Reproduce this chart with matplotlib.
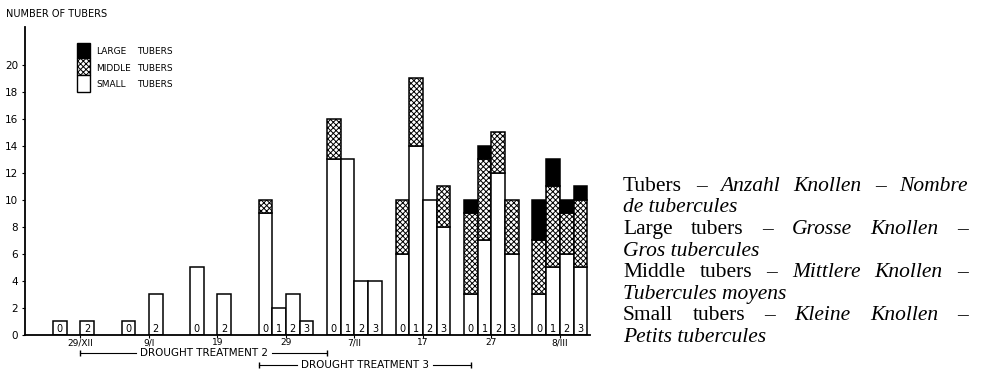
import matplotlib
matplotlib.use('Agg')
import matplotlib.pyplot as plt
from matplotlib.patches import Rectangle

# data
dates = ['29/XII', '9/I', '19', '29', '7/II', '17', '27', '8/III']
slots = [[0, 2], [0, 2], [0, 2], [0, 1, 2, 3], [0, 1, 2, 3], [0, 1, 2, 3], [0, 1, 2, 3], [0, 1, 2, 3]]
small = [[1, 1], [1, 3], [5, 3], [9, 2, 3, 1], [13, 13, 4, 4], [6, 14, 10, 8], [3, 7, 12, 6], [3, 5, 6, 5]]
middle = [[0, 0], [0, 0], [0, 0], [1, 0, 0, 0], [3, 0, 0, 0], [4, 5, 0, 3], [6, 6, 3, 4], [4, 6, 3, 5]]
large = [[0, 0], [0, 0], [0, 0], [0, 0, 0, 0], [0, 0, 0, 0], [0, 0, 0, 0], [1, 1, 0, 0], [3, 2, 1, 1]]
yticks = list(range(0, 21, 2))

legend_labels = ['LARGE', 'MIDDLE', 'SMALL']
treatments = ['DROUGHT TREATMENT 2', 'DROUGHT TREATMENT 3']

# caption on the right: (word, italic)
caption = [
    [('Tubers', 0), ('–', 0), ('Anzahl', 1), ('Knollen', 1), ('–', 1), ('Nombre', 1)],
    [('de tubercules', 1)],
    [('Large', 0), ('tubers', 0), ('–', 0), ('Grosse', 1), ('Knollen', 1), ('–', 1)],
    [('Gros tubercules', 1)],
    [('Middle', 0), ('tubers', 0), ('–', 0), ('Mittlere', 1), ('Knollen', 1), ('–', 1)],
    [('Tubercules moyens', 1)],
    [('Small', 0), ('tubers', 0), ('–', 0), ('Kleine', 1), ('Knollen', 1), ('–', 1)],
    [('Petits tubercules', 1)],
]

plt.rcParams['hatch.linewidth'] = 0.7
W, H = 981, 379
fig = plt.figure(figsize=(W / 100, H / 100), dpi=100)
ax = fig.add_axes([25 / W, 1 - 335 / H, 565 / W, 308 / H])

hatch = 'xxxxxx'
for g in range(len(dates)):
    for k, s in enumerate(slots[g]):
        x = g * 5 + s
        ax.bar(x, small[g][k], width=1, align='edge', color='white', edgecolor='black', lw=1.1)
        if middle[g][k]:
            ax.bar(x, middle[g][k], bottom=small[g][k], width=1, align='edge', color='white',
                   edgecolor='black', hatch=hatch, lw=1.1)
        if large[g][k]:
            ax.bar(x, large[g][k], bottom=small[g][k] + middle[g][k], width=1, align='edge',
                   color='black', edgecolor='black', lw=1.1)
        ax.text(x + 0.5, 0.42, str(s), ha='center', va='center', fontsize=7)

ax.set_xlim(-2.05, 39.2)
ax.set_ylim(0, 22.8)
ax.spines['top'].set_visible(False)
ax.spines['right'].set_visible(False)
ax.spines['left'].set_linewidth(1.3)
ax.spines['bottom'].set_linewidth(1.3)
ax.set_xticks([g * 5 + 2 for g in range(len(dates))])
ax.set_xticklabels(dates, fontsize=6.5)
ax.tick_params(axis='x', length=2.5, width=0.8, pad=0)
ax.set_yticks(yticks)
ax.set_yticklabels([str(v) for v in yticks], fontsize=7.5)
ax.tick_params(axis='y', length=2, width=0.8, pad=3)

# legend drawn by hand like the original
cols = ['black', 'white', 'white']
hat = [None, hatch, None]
for i in range(3):
    y0 = 20.5 - i * 1.24
    ax.add_patch(Rectangle((1.75, y0), 0.95, 1.1 if i == 0 else 1.24, facecolor=cols[i],
                           edgecolor='black', hatch=hat[i], lw=1.0))
    ax.text(3.14, y0 + 0.5, legend_labels[i], fontsize=6.5, va='center')
    ax.text(6.14, y0 + 0.5, 'TUBERS', fontsize=6.5, va='center')

fig.text(6 / W, 1 - 14 / H, 'NUMBER OF TUBERS', fontsize=7, va='center')

fig.canvas.draw()
r = fig.canvas.get_renderer()

# drought treatment lines, broken around the label
spans = [(2, 20, -1.33), (15, 30.5, -2.25)]
for (x0, x1, yy), lab in zip(spans, treatments):
    t = ax.text((x0 + x1) / 2, yy, lab, ha='center', va='center', fontsize=7.5, clip_on=False)
    bb = t.get_window_extent(r).transformed(ax.transData.inverted())
    ax.plot([x0, bb.x0 - 0.3], [yy, yy], color='black', lw=0.8, clip_on=False)
    ax.plot([bb.x1 + 0.3, x1], [yy, yy], color='black', lw=0.8, clip_on=False)
    ax.plot([x0, x1], [yy, yy], ls='none', marker='|', ms=4, color='black', clip_on=False)

# justified caption
left, right = 623, 968
base = 191
for i, line in enumerate(caption):
    y = 1 - (base + i * 21.5) / H
    txts = [fig.text(0, y, w, fontsize=15.5, family='Liberation Serif',
                     style='italic' if it else 'normal', va='baseline') for w, it in line]
    widths = [t.get_window_extent(r).width for t in txts]
    gap = (right - left - sum(widths)) / (len(txts) - 1) if len(txts) > 1 else 0
    x = left
    for t, w in zip(txts, widths):
        t.set_x(x / W)
        x += w + gap

fig.savefig('out.png', dpi=100)
